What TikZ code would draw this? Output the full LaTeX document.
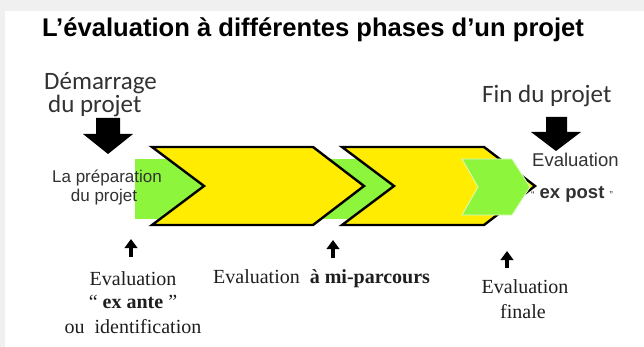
\documentclass[tikz,border=0pt]{standalone}
\usepackage{fontspec}
\setmainfont{Liberation Serif}
\newfontfamily\arialf{Liberation Sans}
\newfontfamily\calf{Carlito}
\usetikzlibrary{arrows.meta}
\definecolor{chevyellow}{RGB}{255,236,0}
\definecolor{chevgreen}{RGB}{140,245,60}
\definecolor{txtgray}{RGB}{50,50,50}
\definecolor{sertxt}{RGB}{30,30,30}
\begin{document}
\begin{tikzpicture}[x=1pt,y=-1pt,
  chev/.style={fill=chevyellow,draw=black,line width=2.4pt,line join=miter},
  gchev/.style={fill=chevgreen,draw=white!70!chevgreen,line width=0.8pt},
  blockarrow/.style={fill=black},
  uparr/.style={line width=3.4pt,-{Triangle[width=12.5pt,length=9pt]}},
  titlefont/.style={font=\arialf\bfseries\fontsize{25.6}{30}\selectfont},
  calfont/.style={font=\calf\fontsize{25}{28}\selectfont,text=txtgray},
  sansfont/.style={font=\arialf\fontsize{17}{20}\selectfont,text=txtgray},
  sansfontb/.style={font=\arialf\fontsize{18.5}{22}\selectfont,text=txtgray},
  serfont/.style={font=\fontsize{20}{24}\selectfont,text=sertxt},
  inner sep=0pt]
\useasboundingbox (0,0) rectangle (644,347);
\fill[gray!12] (0,0) rectangle (644,347);
\fill[white] (5,11) rectangle (644,347);

% title
\node[titlefont,anchor=base] (title) at (313,37) {L’évaluation à différentes phases d’un projet};

% start / end labels
\node[calfont,anchor=base west] (dem1) at (44,90) {Démarrage};
\node[calfont,anchor=base west] (dem2) at (48,113) {du projet};
\node[calfont,anchor=base west] (fin) at (482,103) {Fin du projet};

% block arrows
\fill[blockarrow] (96,118) -- (120,118) -- (120,134) -- (133,134) -- (108,154) -- (83,134) -- (96,134) -- cycle;
\fill[blockarrow] (546,117) -- (567,117) -- (567,132) -- (581,132) -- (556,151) -- (531,132) -- (546,132) -- cycle;

% chevrons
\fill[chevgreen] (135,159) rectangle (400,219);
\draw[chev] (152,147) -- (313,147) -- (364,186) -- (313,225) -- (152,225) -- (204,186) -- cycle;
\draw[chev] (342,147) -- (484,147) -- (535,186) -- (484,225) -- (342,225) -- (394,186) -- cycle;
\draw[gchev] (462,159) -- (512,159) -- (530,187) -- (512,215) -- (462,215) -- (478,187) -- cycle;

% preparation text
\node[sansfont,anchor=base] (prep1) at (107,183) {La préparation};
\node[sansfont,anchor=base] (prep2) at (104,201) {du projet};

% ex post
\node[sansfontb,anchor=base west] (evp1) at (532,167) {Evaluation};
\node[sansfontb,anchor=base west] (evp2) at (531,199) {{\fontsize{10}{10}\selectfont“} \textbf{ex post} {\fontsize{10}{10}\selectfont”}};

% up arrows
\coordinate (u1s) at (131,257); \coordinate (u1e) at (131,239);
\coordinate (u2s) at (333,258); \coordinate (u2e) at (333,240);
\coordinate (u3s) at (507,268); \coordinate (u3e) at (507,251);
\draw[uparr] (u1s) -- (u1e);
\draw[uparr] (u2s) -- (u2e);
\draw[uparr] (u3s) -- (u3e);

% bottom labels
\node[serfont,anchor=base] (ea1) at (133,285) {Evaluation};
\node[serfont,anchor=base] (ea2) at (133,308) {“ \textbf{ex ante} ”};
\node[serfont,anchor=base] (ea3) at (133,333) {ou\ \ identification};
\node[serfont,anchor=base west] (mid) at (213,283) {Evaluation\ \ \textbf{à mi-parcours}};
\node[serfont,anchor=base] (fn1) at (525,293) {Evaluation};
\node[serfont,anchor=base] (fn2) at (523,318) {finale};
\end{tikzpicture}
\end{document}
